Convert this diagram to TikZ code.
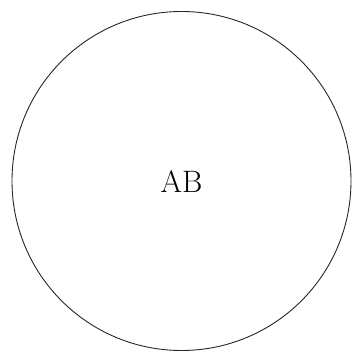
\documentclass[tikz,border=0pt]{standalone}
\begin{document}
\begin{tikzpicture}[x=1pt,y=1pt,
  setcircle/.style={circle,draw=black!85,line width=0.9pt,minimum size=339pt,inner sep=0pt},
  setlabel/.style={font=\fontsize{31}{36}\selectfont,inner sep=0pt}]
\useasboundingbox (0,0) rectangle (352,354);
\node[setcircle] (c) at (181.5,173) {};
\node[setlabel,anchor=base] (t) at (181.5,161) {AB};
\end{tikzpicture}
\end{document}
